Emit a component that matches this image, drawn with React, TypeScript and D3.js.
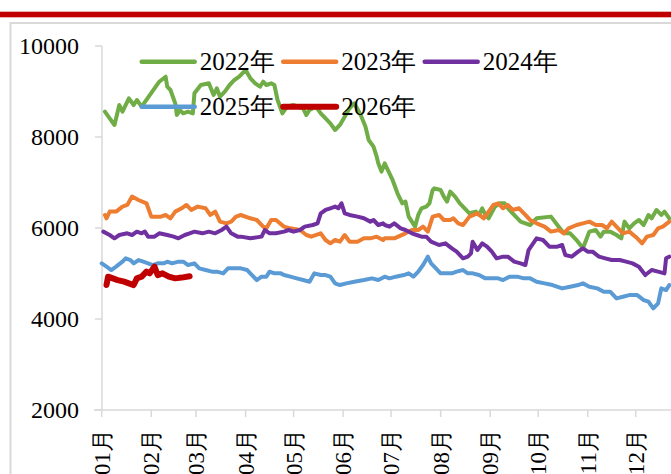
import React from 'react';
import * as d3 from 'd3';

// ---------- data ----------
const monthLabels = ['01月', '02月', '03月', '04月', '05月', '06月', '07月', '08月', '09月', '10月', '11月', '12月'];
const monthStartDays = [0, 31, 59, 90, 120, 151, 181, 212, 243, 273, 304, 334];
const yTicks = [2000, 4000, 6000, 8000, 10000];
const seriesNames = ['2022年', '2023年', '2024年', '2025年', '2026年'];
const seriesColors = ['#70AD47', '#ED7D31', '#7030A0', '#5B9BD5', '#C00000'];

// [day of year, value]
const s2022: [number, number][] = [
  [2, 8556], [5, 8410], [8, 8264], [11, 8703], [13, 8556], [17, 8850], [20, 8703], [22, 8813], [25, 8666],
  [36, 9215], [40, 9325], [41, 9105], [43, 9033], [46, 8740], [47, 8483], [49, 8593], [51, 8520], [54, 8556],
  [57, 8520], [58, 8960], [62, 9143], [67, 9180], [70, 8923], [72, 9070], [74, 8886], [77, 8996], [80, 9143],
  [83, 9253], [86, 9325], [90, 9472], [93, 9290], [96, 9180], [99, 9105], [101, 9215], [103, 9143], [106, 9180],
  [108, 9143], [110, 8813], [113, 8520], [116, 8666], [120, 8703], [123, 8666], [126, 8630], [128, 8483],
  [130, 8593], [134, 8666], [137, 8520], [140, 8410], [143, 8300], [146, 8154], [149, 8264], [152, 8447],
  [155, 8630], [158, 8740], [162, 8483], [165, 8227], [167, 7934], [170, 7787], [172, 7567], [173, 7421],
  [175, 7240], [177, 7420], [179, 7270], [182, 7050], [185, 6763], [188, 6543], [190, 6580], [192, 6250],
  [194, 6140], [196, 6030], [198, 6286], [200, 6433], [203, 6470], [205, 6543], [207, 6835], [208, 6872],
  [212, 6835], [214, 6690], [216, 6580], [218, 6800], [221, 6690], [224, 6543], [227, 6433], [230, 6323],
  [234, 6360], [236, 6286], [238, 6433], [240, 6286], [242, 6213], [246, 6470], [249, 6543], [252, 6543],
  [255, 6396], [259, 6250], [262, 6140], [265, 6103], [268, 6066], [272, 6213], [281, 6250], [285, 6066],
  [289, 5883], [293, 5883], [297, 5736], [301, 5553], [303, 5736], [305, 5920], [309, 5956], [312, 5810],
  [314, 5920], [318, 5920], [322, 5846], [325, 5773], [327, 6140], [330, 5993], [333, 6103], [336, 6176],
  [339, 6066], [342, 6286], [344, 6213], [347, 6396], [350, 6286], [352, 6360], [355, 6213],
];

const s2023: [number, number][] = [
  [2, 6286], [3, 6213], [5, 6360], [9, 6360], [13, 6470], [16, 6506], [19, 6690], [23, 6616], [28, 6543],
  [31, 6250], [37, 6250], [40, 6286], [43, 6213], [46, 6360], [50, 6433], [53, 6506], [56, 6396], [60, 6470],
  [65, 6433], [68, 6286], [71, 6360], [74, 6140], [78, 6103], [81, 6140], [84, 6250], [87, 6286], [93, 6213],
  [97, 6176], [101, 6030], [103, 5993], [106, 6176], [109, 6176], [114, 6030], [118, 5993], [124, 5956],
  [128, 5846], [131, 5810], [137, 5883], [140, 5736], [143, 5663], [146, 5736], [149, 5700], [152, 5846],
  [155, 5700], [160, 5700], [164, 5773], [168, 5773], [172, 5810], [176, 5736], [177, 5773], [183, 5773],
  [190, 5883], [194, 5956], [198, 5956], [201, 6030], [204, 5920], [207, 6250], [211, 6286], [214, 6176],
  [218, 6176], [220, 6213], [223, 6103], [226, 6066], [230, 6250], [235, 6323], [239, 6213], [242, 6360],
  [245, 6506], [248, 6543], [251, 6433], [254, 6506], [257, 6396], [261, 6433], [265, 6286], [268, 6176],
  [272, 6103], [277, 6030], [281, 5920], [286, 5956], [289, 5883], [292, 5993], [297, 6066], [301, 6103],
  [305, 6140], [309, 6066], [313, 6066], [316, 5993], [319, 6140], [323, 5993], [326, 5883], [330, 5920],
  [335, 5773], [338, 5663], [341, 5810], [345, 5846], [348, 5993], [351, 6030], [355, 6140],
];

const s2024: [number, number][] = [
  [1, 5920], [5, 5846], [8, 5773], [11, 5846], [16, 5883], [19, 5846], [22, 5920], [25, 5883], [27, 5920],
  [29, 5810], [33, 5810], [36, 5883], [41, 5846], [45, 5810], [48, 5773], [52, 5846], [55, 5883], [58, 5920],
  [63, 5883], [67, 5920], [71, 5883], [75, 5956], [78, 6030], [81, 5883], [85, 5810], [87, 5810], [93, 5773],
  [100, 5810], [102, 5956], [105, 5883], [109, 5883], [114, 5920], [117, 5956], [120, 5920], [124, 5956],
  [127, 6030], [132, 6066], [135, 6103], [137, 6323], [140, 6396], [143, 6433], [146, 6470], [148, 6433],
  [150, 6543], [152, 6323], [155, 6286], [160, 6250], [164, 6213], [168, 6140], [170, 6176], [173, 6066],
  [176, 6103], [177, 6066], [180, 6030], [183, 6103], [187, 5993], [190, 5956], [194, 5883], [197, 5846],
  [200, 5810], [203, 5810], [206, 5700], [211, 5626], [215, 5663], [219, 5553], [222, 5480], [226, 5333],
  [229, 5370], [231, 5443], [232, 5700], [235, 5516], [238, 5663], [241, 5590], [244, 5480], [247, 5333],
  [251, 5370], [254, 5370], [258, 5260], [262, 5223], [265, 5186], [267, 5516], [272, 5773], [276, 5736],
  [280, 5590], [285, 5590], [288, 5626], [290, 5406], [294, 5370], [298, 5480], [301, 5553], [304, 5480],
  [307, 5480], [311, 5370], [315, 5333], [319, 5296], [324, 5296], [328, 5260], [332, 5223], [336, 5150],
  [340, 4966], [344, 5076], [348, 5040], [352, 5003], [353, 5333], [355, 5370],
];

const s2025: [number, number][] = [
  [0, 5223], [3, 5150], [6, 5076], [9, 5150], [13, 5260], [15, 5333], [18, 5296], [20, 5223], [23, 5296],
  [26, 5260], [29, 5223], [32, 5186], [35, 5223], [39, 5223], [41, 5260], [44, 5223], [48, 5260], [51, 5260],
  [54, 5186], [58, 5223], [61, 5113], [65, 5076], [69, 5040], [72, 5040], [76, 5003], [79, 5113], [83, 5113],
  [87, 5113], [91, 5076], [94, 4966], [97, 4856], [100, 4930], [103, 4930], [105, 5040], [108, 5003],
  [112, 5003], [114, 4966], [118, 4930], [122, 4893], [126, 4856], [130, 4820], [133, 5003], [137, 4966],
  [140, 4966], [143, 4930], [146, 4783], [149, 4746], [153, 4783], [158, 4820], [164, 4856], [169, 4893],
  [173, 4856], [177, 4930], [180, 4893], [184, 4930], [189, 4966], [192, 5003], [195, 4930], [198, 5040],
  [201, 5186], [204, 5370], [206, 5223], [208, 5150], [212, 5003], [216, 5003], [219, 5003], [222, 5040],
  [226, 5076], [229, 5003], [232, 5003], [236, 4966], [240, 4893], [244, 4893], [248, 4893], [251, 4856],
  [255, 4930], [260, 4930], [264, 4893], [268, 4893], [272, 4820], [277, 4783], [282, 4746], [288, 4673],
  [293, 4710], [298, 4746], [301, 4783], [305, 4710], [310, 4673], [314, 4600], [318, 4600], [322, 4453],
  [326, 4490], [330, 4526], [335, 4526], [339, 4416], [342, 4380], [345, 4233], [348, 4343], [350, 4673],
  [353, 4636], [355, 4746],
];

const s2026: [number, number][] = [
  [3, 4746], [4, 4930], [7, 4893], [10, 4856], [14, 4820], [17, 4783], [20, 4746], [22, 4893], [25, 4930],
  [28, 5040], [30, 5003], [33, 5150], [35, 4966], [38, 5003], [42, 4930], [46, 4893], [50, 4910], [55, 4940],
];

const allSeries = [s2022, s2023, s2024, s2025, s2026];
const seriesWidths = [4, 4, 4, 4, 6];

export default function App() {
  const W = 671;
  const H = 474;
  const x = d3.scaleLinear().domain([0, 334]).range([101.7, 635.7]);
  const y = d3.scaleLinear().domain([2000, 10000]).range([410, 46]);
  const line = d3
    .line<[number, number]>()
    .x((d) => x(d[0]))
    .y((d) => y(d[1]));

  const serif = "'Liberation Serif', Tinos, 'DejaVu Serif', serif";
  const axisColor = '#d9d9d9';

  return (
    <svg
      width={W}
      height={H}
      viewBox={`0 0 ${W} ${H}`}
      style={{ position: 'absolute', left: 0, top: 0, background: '#fff' }}
    >
      <rect x={0} y={0} width={W} height={H} fill="#fff" />
      {/* top red bar */}
      <rect x={0} y={11.7} width={W} height={5.6} fill="#C00000" />
      {/* frame */}
      <rect x={10.5} y={23} width={W + 20} height={H + 20} fill="none" stroke={axisColor} strokeWidth={2} />

      {/* y axis */}
      <line x1={102} x2={102} y1={y(10000)} y2={y(2000)} stroke={axisColor} strokeWidth={1.5} />
      {yTicks.map((t) => (
        <g key={t}>
          <line x1={95} x2={102} y1={y(t)} y2={y(t)} stroke={axisColor} strokeWidth={1.5} />
          <text
            x={79}
            y={y(t)}
            dy="0.35em"
            textAnchor="end"
            style={{ fontFamily: serif, fontSize: 24 }}
            fill="#000"
          >
            {t}
          </text>
        </g>
      ))}

      {/* x axis */}
      <line x1={94} x2={W} y1={410} y2={410} stroke={axisColor} strokeWidth={1.5} />
      {monthStartDays.map((d, i) => (
        <g key={d}>
          <line x1={x(d)} x2={x(d)} y1={410} y2={417} stroke={axisColor} strokeWidth={1.5} />
          <text
            transform={`translate(${x(d)},429) rotate(-90)`}
            dy="0.35em"
            textAnchor="end"
            style={{ fontFamily: serif, fontSize: 23 }}
            fill="#000"
          >
            {monthLabels[i]}
          </text>
        </g>
      ))}

      {/* series */}
      {allSeries.map((s, i) => (
        <path
          key={seriesNames[i]}
          d={line(s) || ''}
          fill="none"
          stroke={seriesColors[i]}
          strokeWidth={seriesWidths[i]}
          strokeLinejoin="round"
          strokeLinecap="round"
        />
      ))}

      {/* legend */}
      {seriesNames.map((name, i) => {
        const col = i % 3;
        const row = Math.floor(i / 3);
        const lx = 141.7 + col * 141.5;
        const ly = 61.7 + row * 45;
        return (
          <g key={name}>
            <line
              x1={lx}
              x2={lx + 53}
              y1={ly}
              y2={ly}
              stroke={seriesColors[i]}
              strokeWidth={i === 4 ? 6 : 4.5}
              strokeLinecap="round"
            />
            <text x={lx + 58} y={ly} dy="0.35em" style={{ fontFamily: serif, fontSize: 25 }} fill="#000">
              {name}
            </text>
          </g>
        );
      })}
    </svg>
  );
}
